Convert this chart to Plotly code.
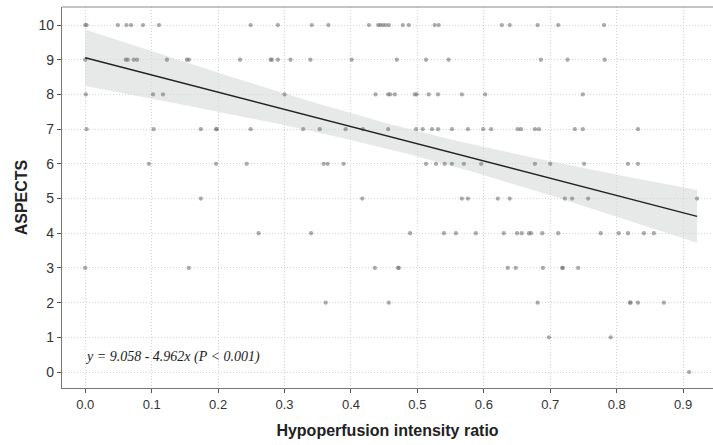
import numpy as np
import plotly.graph_objects as go

# Hypoperfusion intensity ratio (HIR) and ASPECTS score per patient, grouped by score
hir_10 = [0.000, 0.002, 0.049, 0.062, 0.069, 0.087, 0.111, 0.249, 0.290, 0.341, 0.366,
          0.427, 0.441, 0.444, 0.448, 0.452, 0.457, 0.478, 0.487, 0.526, 0.532,
          0.627, 0.639, 0.681, 0.712, 0.781]
hir_9 = [0.000, 0.061, 0.064, 0.073, 0.078, 0.123, 0.153, 0.156, 0.233, 0.279, 0.281,
         0.290, 0.309, 0.339, 0.401, 0.469, 0.513, 0.547, 0.686, 0.726, 0.782]
hir_8 = [0.001, 0.102, 0.117, 0.300, 0.437, 0.456, 0.459, 0.466, 0.496, 0.499, 0.517,
         0.531, 0.567, 0.602, 0.749]
hir_7 = [0.002, 0.103, 0.174, 0.197, 0.198, 0.249, 0.328, 0.353, 0.392, 0.418, 0.456,
         0.498, 0.508, 0.522, 0.531, 0.552, 0.576, 0.599, 0.611, 0.651, 0.656, 0.677,
         0.683, 0.737, 0.749, 0.832]
hir_6 = [0.096, 0.197, 0.243, 0.359, 0.365, 0.389, 0.513, 0.528, 0.541, 0.552, 0.570,
         0.596, 0.677, 0.700, 0.751, 0.817, 0.832]
hir_5 = [0.174, 0.417, 0.567, 0.576, 0.621, 0.639, 0.722, 0.733, 0.757, 0.921]
hir_4 = [0.261, 0.340, 0.489, 0.540, 0.558, 0.588, 0.630, 0.650, 0.657, 0.668, 0.671,
         0.688, 0.712, 0.776, 0.803, 0.817, 0.841, 0.856]
hir_3 = [0.000, 0.156, 0.436, 0.471, 0.472, 0.636, 0.648, 0.689, 0.718, 0.719, 0.742]
hir_2 = [0.362, 0.457, 0.681, 0.820, 0.821, 0.832, 0.871]
hir_1 = [0.698, 0.791]
hir_0 = [0.909]

groups = {10: hir_10, 9: hir_9, 8: hir_8, 7: hir_7, 6: hir_6, 5: hir_5,
          4: hir_4, 3: hir_3, 2: hir_2, 1: hir_1, 0: hir_0}

# Fitted regression reported in the figure
intercept = 9.058
slope = -4.962
x_ticks = [0.0, 0.1, 0.2, 0.3, 0.4, 0.5, 0.6, 0.7, 0.8, 0.9]
y_ticks = list(range(0, 11))

x = np.array([v for s, vals in groups.items() for v in vals])
y = np.array([s for s, vals in groups.items() for v in vals], dtype=float)

# 95% confidence band around the fitted line
n = len(x)
resid = y - (intercept + slope * x)
s_err = np.sqrt(np.sum(resid ** 2) / (n - 2))
xbar = x.mean()
sxx = np.sum((x - xbar) ** 2)
xs = np.linspace(x.min(), x.max(), 120)
fit = intercept + slope * xs
half = 1.976 * s_err * np.sqrt(1.0 / n + (xs - xbar) ** 2 / sxx)
upper = fit + half
lower = fit - half

fig = go.Figure()
fig.add_trace(go.Scatter(
    x=np.concatenate([xs, xs[::-1]]), y=np.concatenate([upper, lower[::-1]]),
    fill="toself", fillcolor="rgba(215,218,218,0.6)", line=dict(width=0),
    hoverinfo="skip", showlegend=False))
fig.add_trace(go.Scatter(
    x=x, y=y, mode="markers",
    marker=dict(size=4.3, color="rgba(115,115,115,0.6)", line=dict(width=0)),
    showlegend=False))
fig.add_trace(go.Scatter(
    x=xs, y=fit, mode="lines", line=dict(color="#222222", width=1.4),
    showlegend=False))

fig.add_annotation(
    x=-0.004, y=0.43, xref="x", yref="y", xanchor="left", yanchor="middle",
    text="<i>y = 9.058 - 4.962x (P < 0.001)</i>", showarrow=False,
    font=dict(family="Liberation Serif, Times New Roman, serif", size=14, color="#222"))

fig.update_layout(
    width=713, height=445,
    margin=dict(l=62, r=0, t=7, b=57),
    paper_bgcolor="white", plot_bgcolor="white",
    font=dict(family="Liberation Sans, Arial, sans-serif", color="#333"),
    shapes=[dict(type="line", xref="paper", yref="paper", x0=0, x1=1, y0=1, y1=1,
                 line=dict(color="#8a8a8a", width=1.2))],
)
fig.update_xaxes(
    range=[-0.035, 0.945], tickvals=x_ticks, tickformat=".1f",
    ticks="outside", ticklen=4, tickcolor="#555", tickfont=dict(size=13, color="#333"),
    showline=True, linecolor="#777", linewidth=1.2,
    showgrid=True, gridcolor="#d4d4d4", griddash="1px,2px", gridwidth=1,
    zeroline=False,
    title=dict(text="<b>Hypoperfusion intensity ratio</b>", font=dict(size=16, color="#222"),
               standoff=14))
fig.update_yaxes(
    range=[-0.46, 10.52], tickvals=y_ticks,
    ticks="outside", ticklen=4, tickcolor="#555", tickfont=dict(size=14, color="#333"),
    showline=True, linecolor="#777", linewidth=1.2,
    showgrid=True, gridcolor="#d4d4d4", griddash="1px,2px", gridwidth=1,
    zeroline=False,
    title=dict(text="<b>ASPECTS</b>", font=dict(size=16, color="#222"), standoff=6))

fig.write_html("out.html")
